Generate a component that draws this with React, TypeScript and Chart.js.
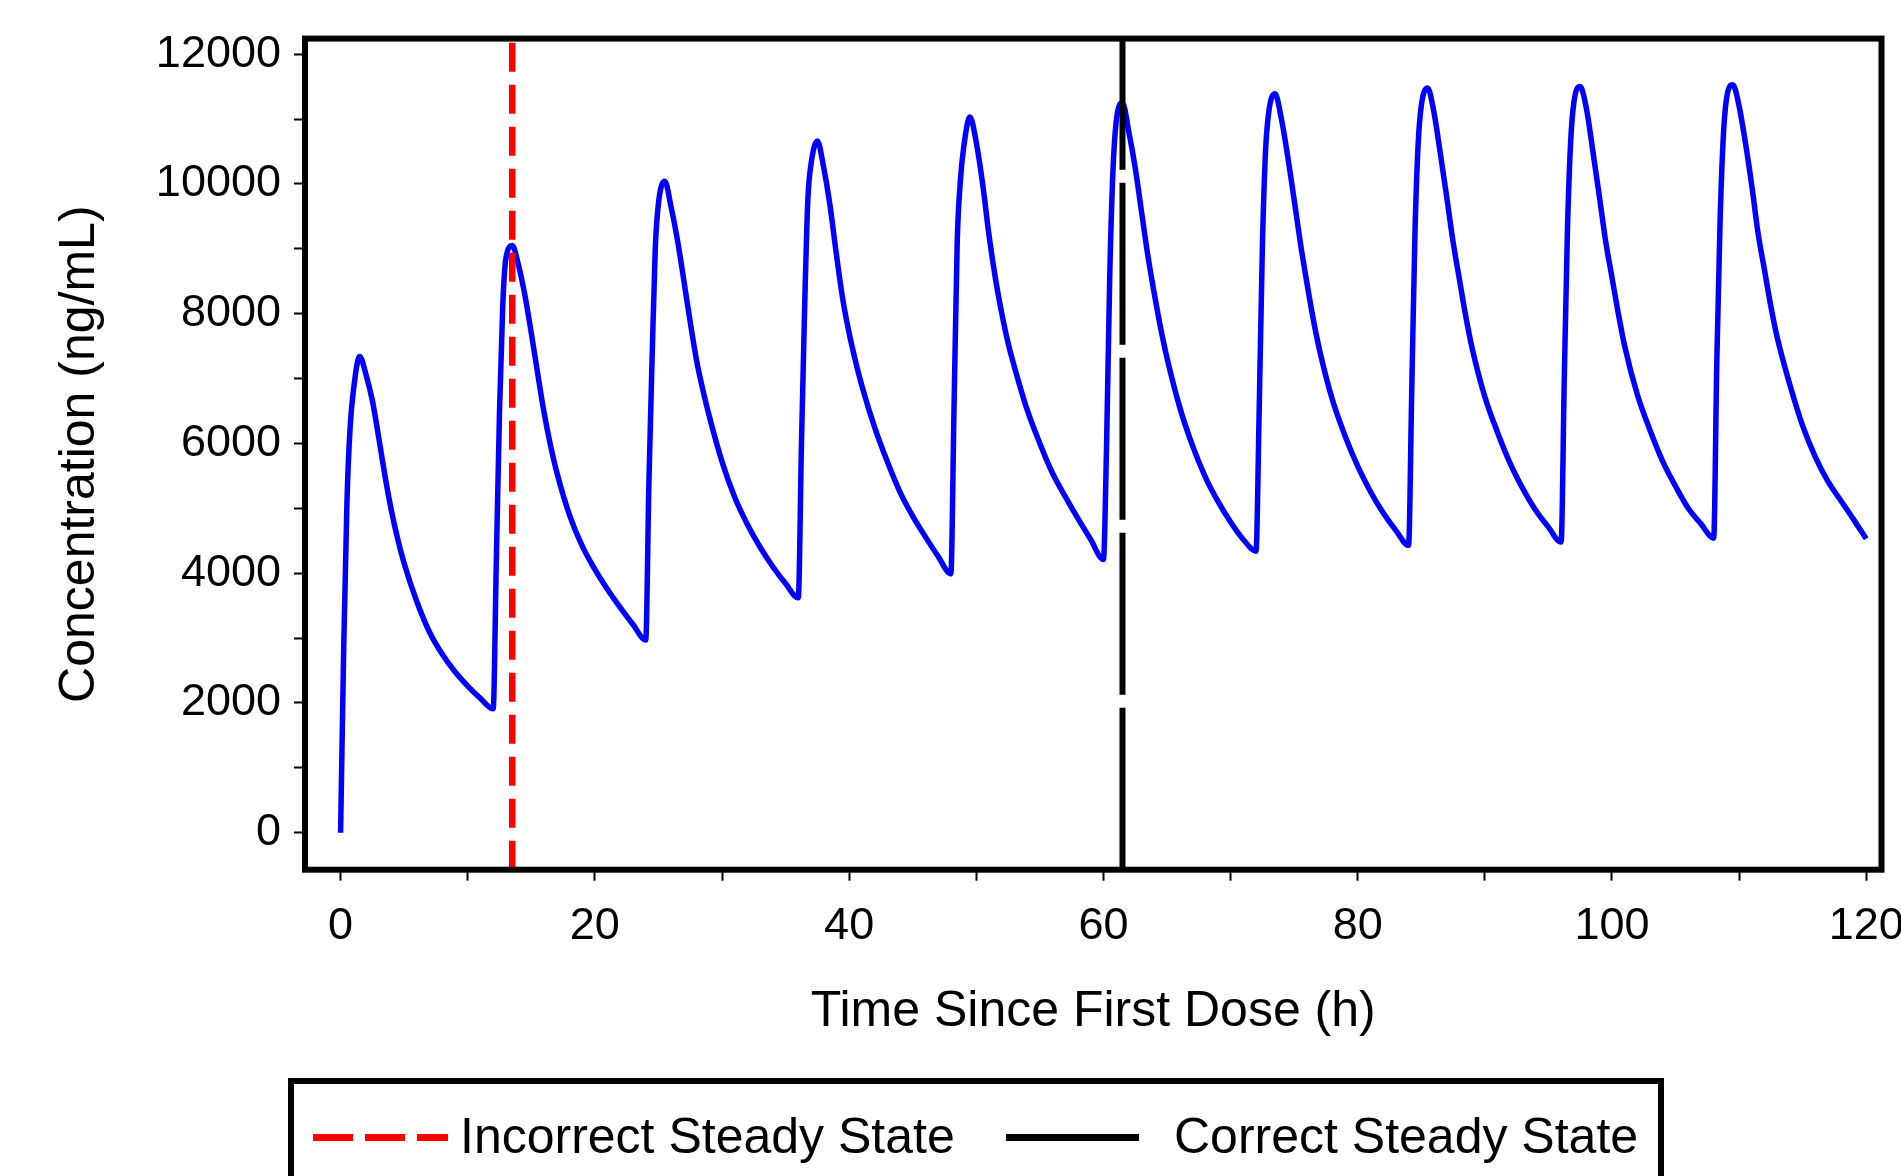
import React, { useEffect, useRef } from 'react';
import { Chart, registerables } from 'chart.js';

Chart.register(...registerables);

// ---- Data ----
const offsetsH = [0, 0.25, 0.5, 0.75, 1, 1.5, 2, 2.5, 3, 3.5, 4, 4.5, 5, 6, 7, 8, 9, 10, 11];
const doseTimesH = [0, 12, 24, 36, 48, 60, 72, 84, 96, 108];

const dose1Conc = [0, 2900, 5100, 6250, 6800, 7340, 7060, 6660, 6090, 5490, 4960, 4520, 4150, 3560, 3090, 2750, 2480, 2260, 2070];
const dose2Conc = [1910, 4200, 6500, 8100, 8850, 9050, 8740, 8280, 7700, 7080, 6480, 5980, 5560, 4900, 4420, 4060, 3750, 3470, 3210];
const dose3Conc = [2970, 5400, 7300, 9000, 9700, 10040, 9640, 9130, 8510, 7870, 7280, 6820, 6420, 5720, 5170, 4750, 4400, 4100, 3840];
const dose4Conc = [3620, 6000, 8100, 9750, 10300, 10660, 10250, 9660, 8910, 8220, 7700, 7270, 6890, 6250, 5720, 5250, 4880, 4560, 4260];
const dose5Conc = [3990, 6550, 9100, 10050, 10550, 11030, 10640, 10000, 9210, 8550, 8010, 7550, 7180, 6520, 6000, 5540, 5180, 4840, 4520];
const dose6Conc = [4210, 6000, 8600, 10200, 10950, 11250, 10800, 10250, 9570, 8890, 8310, 7780, 7320, 6560, 5970, 5490, 5110, 4790, 4520];
const dose7Conc = [4340, 6500, 9000, 10500, 11100, 11390, 11000, 10420, 9760, 9080, 8480, 7920, 7440, 6680, 6120, 5650, 5260, 4930, 4660];
const dose8Conc = [4430, 6800, 9200, 10600, 11200, 11480, 11100, 10470, 9800, 9110, 8530, 7960, 7470, 6720, 6170, 5690, 5300, 4970, 4710];
const dose9Conc = [4480, 7000, 9300, 10650, 11250, 11500, 11150, 10500, 9820, 9120, 8560, 8000, 7500, 6750, 6200, 5720, 5340, 5000, 4760];
const dose10Conc = [4540, 7300, 9400, 10700, 11300, 11530, 11200, 10630, 9970, 9230, 8670, 8110, 7630, 6900, 6270, 5790, 5410, 5120, 4830];
const doseConcs = [dose1Conc, dose2Conc, dose3Conc, dose4Conc, dose5Conc, dose6Conc, dose7Conc, dose8Conc, dose9Conc, dose10Conc];

const endTimeH = 120;
const endConc = 4530;

const incorrectSteadyStateH = 13.5;
const correctSteadyStateH = 61.5;

const xTickValues = [0, 10, 20, 30, 40, 50, 60, 70, 80, 90, 100, 110, 120];
const yTickValues = [0, 1000, 2000, 3000, 4000, 5000, 6000, 7000, 8000, 9000, 10000, 11000, 12000];
const xRange = [-2.8, 121.2];
const yRange = [-570, 12240];

const xTitle = 'Time Since First Dose (h)';
const yTitle = 'Concentration (ng/mL)';
const incorrectLabel = 'Incorrect Steady State';
const correctLabel = 'Correct Steady State';

const FONT = '"Liberation Sans", Arial, Helvetica, sans-serif';

function buildCurve() {
  const pts: { x: number; y: number }[] = [];
  doseTimesH.forEach((d, i) => {
    offsetsH.forEach((o, j) => pts.push({ x: d + o, y: doseConcs[i][j] }));
  });
  pts.push({ x: endTimeH, y: endConc });
  return pts;
}

const frameLegendPlugin = {
  id: 'frameLegend',
  afterDatasetsDraw(chart: any) {
    const { ctx, chartArea: a } = chart;
    ctx.save();
    ctx.strokeStyle = '#000';
    ctx.lineWidth = 6;
    ctx.setLineDash([]);
    ctx.strokeRect(a.left, a.top, a.right - a.left, a.bottom - a.top);
    ctx.restore();
  },
  afterDraw(chart: any) {
    const { ctx } = chart;
    const ds = chart.data.datasets;
    ctx.save();
    ctx.strokeStyle = '#000';
    ctx.lineWidth = 6;
    ctx.setLineDash([]);
    ctx.strokeRect(291, 1081, 1661 - 291, 200);
    const items = [
      { d: ds[0], lineX: 313, lineW: 135, textX: 460, dash: [40, 12] },
      { d: ds[1], lineX: 1006, lineW: 133, textX: 1174, dash: [] as number[] },
    ];
    const ly = 1137.5;
    items.forEach((it) => {
      ctx.strokeStyle = it.d.borderColor;
      ctx.lineWidth = 7;
      ctx.lineCap = 'butt';
      ctx.setLineDash(it.dash);
      ctx.beginPath();
      ctx.moveTo(it.lineX, ly);
      ctx.lineTo(it.lineX + it.lineW, ly);
      ctx.stroke();
      ctx.setLineDash([]);
      ctx.fillStyle = '#000';
      ctx.font = `50px ${FONT}`;
      ctx.textBaseline = 'alphabetic';
      ctx.textAlign = 'left';
      ctx.fillText(it.d.label, it.textX, 1153);
    });
    ctx.restore();
  },
};

export default function App() {
  const ref = useRef<HTMLCanvasElement | null>(null);

  useEffect(() => {
    if (!ref.current) return;
    const chart = new Chart(ref.current, {
      type: 'line',
      data: {
        datasets: [
          {
            label: incorrectLabel,
            data: [
              { x: incorrectSteadyStateH, y: yRange[0] },
              { x: incorrectSteadyStateH, y: yRange[1] },
            ],
            borderColor: '#ff0000',
            borderWidth: 6.5,
            borderDash: [29, 13],
            borderCapStyle: 'butt',
            pointRadius: 0,
            fill: false,
          },
          {
            label: correctLabel,
            data: [
              { x: correctSteadyStateH, y: yRange[0] },
              { x: correctSteadyStateH, y: yRange[1] },
            ],
            borderColor: '#000000',
            borderWidth: 6,
            borderDash: [162, 13],
            borderCapStyle: 'butt',
            pointRadius: 0,
            fill: false,
          },
          {
            label: 'Concentration',
            data: buildCurve(),
            borderColor: '#0000ff',
            borderWidth: 5.5,
            pointRadius: 0,
            cubicInterpolationMode: 'monotone',
            fill: false,
          },
        ],
      },
      options: {
        animation: false,
        responsive: false,
        devicePixelRatio: 1,
        layout: { autoPadding: false, padding: { left: 0, top: 38.6, right: 19.5, bottom: 0 } },
        plugins: { legend: { display: false }, tooltip: { enabled: false } },
        scales: {
          x: {
            type: 'linear',
            min: xRange[0],
            max: xRange[1],
            afterBuildTicks: (s: any) => {
              s.ticks = xTickValues.map((v) => ({ value: v }));
            },
            afterFit: (s: any) => {
              s.height = 1176 - 869.7;
              s.paddingLeft = 0;
              s.paddingRight = 0;
            },
            ticks: {
              autoSkip: false,
              maxRotation: 0,
              color: '#000',
              font: { family: FONT, size: 45 },
              padding: 19,
              callback: (v: any) => (Number(v) % 20 === 0 ? String(v) : ''),
            },
            grid: { display: true, drawOnChartArea: false, drawTicks: true, tickLength: 11, tickWidth: 2, tickColor: '#000' },
            border: { display: false },
            title: {
              display: true,
              text: xTitle,
              color: '#000',
              font: { family: FONT, size: 50 },
              padding: { top: 0, bottom: 134 },
            },
          },
          y: {
            type: 'linear',
            min: yRange[0],
            max: yRange[1],
            afterBuildTicks: (s: any) => {
              s.ticks = yTickValues.map((v) => ({ value: v }));
            },
            afterFit: (s: any) => {
              s.width = 305;
              s.paddingTop = 0;
              s.paddingBottom = 0;
            },
            ticks: {
              autoSkip: false,
              color: '#000',
              font: { family: FONT, size: 45 },
              padding: 13,
              callback: (v: any) => (Number(v) % 2000 === 0 ? String(v) : ''),
            },
            grid: { display: true, drawOnChartArea: false, drawTicks: true, tickLength: 11, tickWidth: 2, tickColor: '#000' },
            border: { display: false },
            title: {
              display: true,
              text: yTitle,
              color: '#000',
              font: { family: FONT, size: 50 },
              padding: { top: 50, bottom: 0 },
            },
          },
        },
      },
      plugins: [frameLegendPlugin],
    } as any);
    return () => chart.destroy();
  }, []);

  return (
    <div style={{ position: 'fixed', left: 0, top: 0, width: 1901, height: 1176, background: '#fff' }}>
      <canvas ref={ref} width={1901} height={1176} style={{ display: 'block', width: 1901, height: 1176 }} />
    </div>
  );
}
